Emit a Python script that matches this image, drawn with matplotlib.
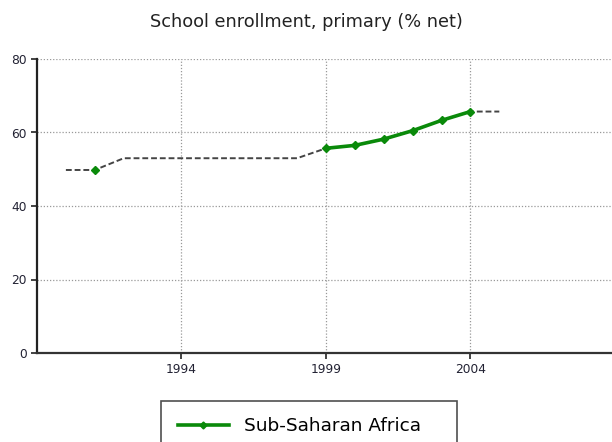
import matplotlib
matplotlib.use("Agg")
from matplotlib import pyplot as plt

# observed values (solid green)
years = [1991, 1999, 2000, 2001, 2002, 2003, 2004]
values = [49.8, 55.7, 56.5, 58.2, 60.5, 63.3, 65.7]

# dashed estimate line
est_years = [1990, 1991, 1992, 1993, 1994, 1995, 1996, 1997, 1998, 1999,
             2000, 2001, 2002, 2003, 2004, 2005]
est_values = [49.8, 49.8, 53.0, 53.0, 53.0, 53.0, 53.0, 53.0, 53.0, 55.7,
              56.5, 58.2, 60.5, 63.3, 65.7, 65.7]

xticks = [1994, 1999, 2004]
yticks = [0, 20, 40, 60, 80]

fig = plt.figure(figsize=(6.12, 4.42), dpi=100)
ax = fig.add_axes([37 / 612, 1 - 353 / 442, 1 - 37 / 612, (353 - 59) / 442])

ax.plot(est_years, est_values, linestyle=(0, (3, 1.5)), color="#444444", lw=1.4, zorder=2)
# solid part only for consecutive years
ax.plot(years[1:], values[1:], color="#0a8a0a", lw=2.6, marker="D", ms=4.5, zorder=3)
ax.plot(years[:1], values[:1], color="#0a8a0a", lw=0, marker="D", ms=4.5, zorder=3)

ax.set_xlim(1989, 2008.9)
ax.set_ylim(0, 80)
ax.set_xticks(xticks)
ax.set_yticks(yticks)
ax.grid(True, linestyle=(0, (1, 1.5)), color="#999999", lw=0.9)
ax.set_axisbelow(True)

for s in ["top", "right"]:
    ax.spines[s].set_visible(False)
ax.spines["left"].set_linewidth(1.6)
ax.spines["bottom"].set_linewidth(1.6)
ax.spines["left"].set_color("#222222")
ax.spines["bottom"].set_color("#333333")
ax.tick_params(axis="both", direction="out", length=4, width=1.2, labelsize=8.8,
               labelcolor="#222233", color="#222222")

fig.text(0.5, 1 - 22 / 442, "School enrollment, primary (% net)", ha="center",
         va="center", fontsize=12.8, color="#222222")

h, = ax.plot([], [], color="#0a8a0a", lw=2.6, marker="D", ms=3.5, label="Sub-Saharan Africa")
leg = fig.legend(handles=[h], loc="upper left",
                 bbox_to_anchor=(161 / 612, 1 - 401 / 442, (457 - 161) / 612, 0.001),
                 mode="expand", frameon=True, fancybox=False, fontsize=13.3,
                 handlelength=2.8, borderpad=0.9, handletextpad=0.8, borderaxespad=0)
leg.get_frame().set_edgecolor("#222222")
leg.get_frame().set_linewidth(1.2)

fig.savefig("out.png", dpi=100)
